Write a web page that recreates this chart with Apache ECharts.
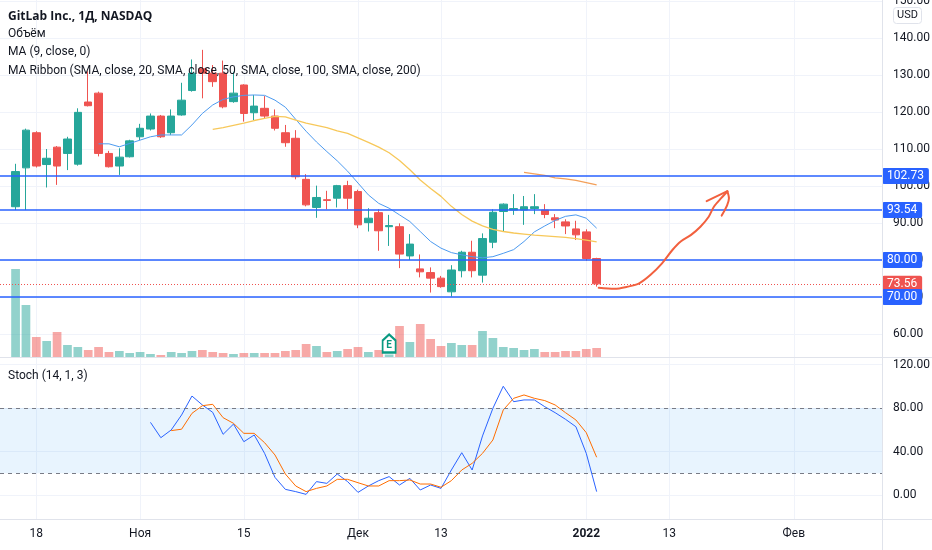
<!DOCTYPE html>
<html>
<head>
<meta charset="utf-8">
<title>GitLab Inc., 1Д, NASDAQ</title>
<script src="https://cdn.jsdelivr.net/npm/echarts@6.0.0/dist/echarts.min.js"></script>
<style>
  html, body { margin: 0; padding: 0; background: #fff; }
  #chart { width: 932px; height: 550px; }
</style>
</head>
<body>
<div id="chart"></div>
<script>
// trading days: one empty slot before the IPO, then history, then empty future days
const dates = [
  '',
  '2021-10-14','2021-10-15','2021-10-18','2021-10-19','2021-10-20','2021-10-21','2021-10-22',
  '2021-10-25','2021-10-26','2021-10-27','2021-10-28','2021-10-29',
  '2021-11-01','2021-11-02','2021-11-03','2021-11-04','2021-11-05',
  '2021-11-08','2021-11-09','2021-11-10','2021-11-11','2021-11-12',
  '2021-11-15','2021-11-16','2021-11-17','2021-11-18','2021-11-19',
  '2021-11-22','2021-11-23','2021-11-24','2021-11-26','2021-11-29','2021-11-30',
  '2021-12-01','2021-12-02','2021-12-03','2021-12-06','2021-12-07','2021-12-08','2021-12-09','2021-12-10',
  '2021-12-13','2021-12-14','2021-12-15','2021-12-16','2021-12-17',
  '2021-12-20','2021-12-21','2021-12-22','2021-12-23',
  '2021-12-27','2021-12-28','2021-12-29','2021-12-30','2021-12-31',
  '2022-01-03','2022-01-04',
  '2022-01-05','2022-01-06','2022-01-07','2022-01-10','2022-01-11','2022-01-12','2022-01-13','2022-01-14',
  '2022-01-18','2022-01-19','2022-01-20','2022-01-21','2022-01-24','2022-01-25','2022-01-26','2022-01-27','2022-01-28',
  '2022-01-31','2022-02-01','2022-02-02','2022-02-03','2022-02-04','2022-02-07','2022-02-08','2022-02-09','2022-02-10','2022-02-11'
];

// time axis labels shown under the chart
const tickLabels = {
  '2021-10-18': '18', '2021-11-01': 'Ноя', '2021-11-15': '15', '2021-12-01': 'Дек',
  '2021-12-13': '13', '2022-01-03': '2022', '2022-01-13': '13', '2022-02-01': 'Фев'
};

// OHLC, one entry per trading day from 2021-10-14
const opens = [94.4, 104.9, 114.4, 105.8, 110.5, 108.8, 105.9, 122.7, 125.1, 108.8,
  105.4, 107.9, 113.3, 115.4, 118.9, 114.4, 119.2, 125.8, 131.7, 130.5,
  130.5, 122.8, 127.3, 119.8, 121.0, 118.9, 114.4, 112.9, 101.8, 94.2,
  96.3, 96.7, 100.1, 98.5, 90.1, 92.8, 89.0, 89.0, 81.1, 77.6,
  76.6, 75.1, 71.4, 77.1, 82.1, 75.9, 84.8, 93.1, 93.5, 93.5,
  93.9, 93.5, 91.4, 90.3, 88.4, 87.6, 80.4];
const closes = [103.9, 115.1, 105.4, 107.5, 105.4, 112.7, 119.9, 121.7, 108.8, 105.2,
  107.8, 112.2, 115.6, 118.9, 113.3, 118.9, 123.2, 130.5, 130.5, 128.2,
  121.4, 125.1, 119.6, 121.6, 118.9, 115.6, 111.7, 102.5, 94.9, 96.9,
  96.1, 100.1, 96.7, 89.5, 91.3, 87.9, 89.3, 81.6, 84.3, 76.8,
  75.1, 72.8, 77.3, 82.1, 77.1, 85.8, 92.9, 95.1, 93.9, 94.4,
  94.4, 92.3, 90.8, 89.2, 86.8, 80.4, 73.56];
const lows = [93.5, 93.5, 105.0, 99.6, 100.3, 104.3, 105.5, 121.5, 108.0, 105.0,
  103.0, 107.7, 112.4, 115.0, 113.0, 113.8, 119.0, 125.5, 123.7, 126.8,
  121.0, 122.5, 117.4, 117.8, 118.3, 115.0, 110.6, 101.8, 94.5, 91.4,
  93.7, 94.2, 93.7, 88.6, 87.7, 82.5, 83.8, 77.8, 80.0, 75.3,
  71.2, 72.5, 70.1, 75.3, 75.3, 73.9, 83.2, 87.7, 92.2, 89.5,
  92.4, 91.3, 88.6, 87.0, 85.4, 79.8, 72.8];
const highs = [106.0, 115.5, 114.8, 110.0, 110.8, 113.3, 121.0, 131.0, 125.5, 109.5,
  110.2, 112.5, 116.8, 119.6, 119.2, 120.7, 127.9, 134.2, 136.8, 132.7,
  133.9, 130.9, 127.5, 124.6, 124.3, 120.7, 116.5, 115.1, 103.2, 100.1,
  98.7, 100.3, 101.4, 99.0, 94.0, 93.7, 92.2, 89.9, 87.0, 81.5,
  78.0, 75.7, 78.6, 82.5, 85.2, 87.2, 93.7, 95.3, 97.8, 97.3,
  97.8, 95.1, 92.4, 91.0, 90.6, 88.3, 80.6];

// volume, millions of shares
const volumes = [8.8, 5.2, 2.0, 1.6, 2.5, 1.2, 1.0, 0.7, 1.0, 0.5,
  0.6, 0.4, 0.5, 0.3, 0.2, 0.5, 0.4, 0.6, 0.7, 0.5,
  0.4, 0.3, 0.4, 0.4, 0.4, 0.4, 0.6, 0.7, 1.3, 1.1,
  0.5, 0.6, 0.8, 1.0, 0.5, 0.7, 0.25, 3.1, 1.5, 3.3,
  1.8, 1.1, 1.4, 1.2, 1.2, 2.6, 1.9, 1.0, 0.9, 0.7,
  0.8, 0.5, 0.5, 0.6, 0.6, 0.8, 0.9];

// MA 9 from the 9th day, ribbon MA 20 from the 20th, MA 50 from the 50th
const ma9 = [111.4, 111.4, 110.6, 111.5, 112.4, 113.3, 113.8, 113.8, 113.8, 116.5,
  119.6, 121.9, 123.4, 124.1, 124.5, 124.6, 124.5, 123.2, 121.3, 118.0,
  114.8, 111.9, 109.3, 106.8, 104.0, 100.8, 97.6, 95.3, 94.0, 92.2,
  90.4, 87.7, 85.0, 83.2, 82.0, 81.4, 80.9, 80.6, 80.9, 81.8,
  82.8, 85.0, 87.6, 89.2, 90.7, 91.8, 92.2, 91.3, 88.6];
const ma20 = [115.3, 115.8, 116.4, 117.0, 117.7, 118.3, 118.8, 118.7, 117.8, 117.0,
  116.4, 115.8, 114.9, 114.2, 113.0, 111.8, 110.5, 109.0, 106.9, 104.4,
  101.6, 99.3, 97.2, 94.5, 92.3, 90.5, 89.2, 88.3, 87.7, 87.3,
  87.0, 86.7, 86.5, 86.3, 86.1, 85.8, 85.4, 84.9];
const ma50 = [103.7, 103.3, 102.9, 102.2, 101.9, 101.5, 100.9, 100.3];

// Stoch (14, 1, 3): %K from the 14th day, %D from the 16th
const stochK = [66.8, 52.7, 59.8, 73.6, 91.0, 82.8, 76.0, 55.8, 65.2, 49.0,
  55.2, 38.3, 16.2, 5.2, 3.1, 0.6, 12.3, 10.7, 19.3, 12.3,
  2.4, 8.3, 13.2, 16.9, 9.2, 15.3, 4.6, 9.2, 6.1, 23.0,
  38.9, 23.0, 54.3, 79.7, 100, 85.8, 87.4, 87.4, 81.2, 75.7,
  69.6, 62.8, 38.3, 3.1];
const stochD = [59.2, 60.5, 75.1, 82.1, 83.4, 71.1, 65.9, 56.7, 56.7, 48.1,
  36.8, 19.3, 8.3, 3.1, 6.1, 8.3, 14.4, 14.4, 11.3, 8.3,
  8.3, 13.2, 13.2, 13.8, 10.1, 10.1, 7.1, 13.2, 23.0, 29.1,
  38.3, 50.6, 78.2, 88.9, 92.0, 88.9, 86.8, 82.8, 75.7, 69.0,
  57.3, 34.7];

// horizontal levels drawn on the chart
const levels = [102.73, 93.54, 80, 70];
const earningsDate = '2021-12-06';

// hand drawn arrow: [day index, price]
const arrowPath = [[57.2, 72.5], [58.7, 72.2], [60.0, 72.8], [61.1, 73.7], [62.2, 76.0], [63.3, 79.1],
  [64.3, 82.7], [65.1, 85.0], [66.1, 86.8], [67.0, 89.0], [67.8, 91.7], [68.3, 94.4],
  [69.0, 96.7], [69.6, 98.5]];
const arrowLeft = [[67.6, 95.9], [69.6, 98.6]];
const arrowRight = [[69.6, 98.6], [69.75, 96.7], [69.05, 92.0]];

// ------------------------- chart -------------------------
const FONT = 'Roboto, "Noto Sans", sans-serif';
const TEXT = '#131722';
const UP = '#26A69A', DOWN = '#EF5350';
const GRID_LINE = '#F0F3FA';
const BORDER = '#E0E3EB';

const lead = (n, arr) => Array(n).fill('-').concat(arr);
const isTick = (i, v) => Object.prototype.hasOwnProperty.call(tickLabels, v);

const candleData = lead(1, opens.map((o, i) => [o, closes[i], lows[i], highs[i]]));
const volData = lead(1, volumes.map((v, i) => ({
  value: v,
  itemStyle: { color: closes[i] >= opens[i] ? 'rgba(38,166,154,0.5)' : 'rgba(239,83,80,0.5)' }
})));
const lastPrice = closes[closes.length - 1];
const earnIdx = dates.indexOf(earningsDate);

const priceLabel = (bg) => ({
  show: true, position: 'end', distance: 0,
  formatter: p => Number(p.value).toFixed(2),
  color: '#fff', backgroundColor: bg, fontFamily: FONT, fontSize: 12, lineHeight: 13,
  padding: [2, 5, 1, 5], borderRadius: 2
});

const chart = echarts.init(document.getElementById('chart'));
chart.setOption({
  animation: false,
  backgroundColor: '#fff',
  grid: [
    { left: 0, right: 50, top: 1, height: 333, outerBoundsMode: 'none' },          // price
    { left: 0, right: 50, top: 0, bottom: 193, outerBoundsMode: 'none' },          // volume
    { left: 0, right: 50, top: 364.5, bottom: 55, outerBoundsMode: 'none' },       // stoch
    { left: 5.188, right: 55.188, top: 0, bottom: 31, outerBoundsMode: 'none' }    // time grid lines + labels
  ],
  xAxis: [
    { type: 'category', gridIndex: 0, data: dates, show: false },
    { type: 'category', gridIndex: 1, data: dates, show: false },
    { type: 'category', gridIndex: 2, data: dates, show: false },
    {
      type: 'category', gridIndex: 3, data: dates, boundaryGap: false,
      axisLine: { show: false }, axisTick: { show: false },
      axisLabel: {
        interval: isTick, margin: 9, color: TEXT, fontSize: 12, fontFamily: FONT,
        formatter: v => v === '2022-01-03' ? '{y|2022}' : tickLabels[v],
        rich: { y: { fontWeight: 'bold', fontSize: 12, color: TEXT, fontFamily: FONT } }
      },
      splitLine: { show: true, interval: isTick, lineStyle: { color: GRID_LINE, width: 1 } }
    },
    { type: 'value', gridIndex: 0, min: -0.5, max: dates.length - 0.5, show: false }
  ],
  yAxis: [
    {
      type: 'value', gridIndex: 0, position: 'right', min: 60, max: 150, interval: 10,
      axisLine: { show: false }, axisTick: { show: false },
      axisLabel: { formatter: v => v.toFixed(2), color: TEXT, fontSize: 12, fontFamily: FONT, margin: 11 },
      splitLine: { lineStyle: { color: GRID_LINE } }
    },
    { type: 'value', gridIndex: 1, min: 0, max: 35.7, show: false },
    {
      type: 'value', gridIndex: 2, position: 'right', min: 0, max: 120, interval: 40,
      axisLine: { show: false }, axisTick: { show: false },
      axisLabel: { formatter: v => v.toFixed(2), color: TEXT, fontSize: 12, fontFamily: FONT, margin: 11 },
      splitLine: { lineStyle: { color: GRID_LINE } }
    },
    { type: 'value', gridIndex: 3, show: false }
  ],
  series: [
    {
      name: 'Объём', type: 'bar', xAxisIndex: 1, yAxisIndex: 1, z: 1,
      data: volData, barCategoryGap: '16%',
      markPoint: {
        silent: true,
        data: [{
          coord: [earnIdx, volumes[earnIdx - 1]],
          symbol: 'path://M0,6 L6.5,0 L13,6 L13,18 L0,18 Z',
          symbolSize: [13, 18], symbolOffset: [0, -11],
          itemStyle: { color: '#fff', borderColor: '#089981', borderWidth: 2 },
          label: { show: true, formatter: 'E', color: '#089981', fontWeight: 'bold', fontSize: 10, fontFamily: FONT, offset: [0, 2] }
        }]
      }
    },
    {
      name: 'GTLB', type: 'candlestick', xAxisIndex: 0, yAxisIndex: 0, z: 3,
      data: candleData, barWidth: 8,
      itemStyle: { color: UP, color0: DOWN, borderColor: UP, borderColor0: DOWN, borderColorDoji: UP, borderWidth: 1 },
      markLine: {
        silent: true, symbol: 'none', animation: false,
        data: [{
          yAxis: lastPrice, lineStyle: { color: DOWN, width: 1, type: [1, 2] }, label: priceLabel(DOWN)
        }].concat(levels.map(v => ({
          yAxis: v, lineStyle: { color: '#2962FF', width: 1.5, type: 'solid' }, label: priceLabel('#2962FF')
        })))
      }
    },
    {
      name: 'MA 9', type: 'line', xAxisIndex: 0, yAxisIndex: 0, z: 4, symbol: 'none',
      data: lead(9, ma9), lineStyle: { color: '#4D9BF0', width: 1 }
    },
    {
      name: 'MA 20', type: 'line', xAxisIndex: 0, yAxisIndex: 0, z: 4, symbol: 'none',
      data: lead(20, ma20), lineStyle: { color: '#F7C85A', width: 1.3 }
    },
    {
      name: 'MA 50', type: 'line', xAxisIndex: 0, yAxisIndex: 0, z: 4, symbol: 'none',
      data: lead(50, ma50), lineStyle: { color: '#F3A05A', width: 1.3 }
    },
    {
      name: '%K', type: 'line', xAxisIndex: 2, yAxisIndex: 2, z: 4, symbol: 'none',
      data: lead(14, stochK), lineStyle: { color: '#2962FF', width: 1 },
      markArea: {
        silent: true,
        itemStyle: { color: 'rgba(33,150,243,0.1)' },
        data: [[{ yAxis: 20 }, { yAxis: 80 }]]
      },
      markLine: {
        silent: true, symbol: 'none', label: { show: false },
        lineStyle: { color: '#787B86', width: 1, type: [4, 4] },
        data: [{ yAxis: 80 }, { yAxis: 20 }]
      }
    },
    {
      name: '%D', type: 'line', xAxisIndex: 2, yAxisIndex: 2, z: 4, symbol: 'none',
      data: lead(16, stochD), lineStyle: { color: '#FF6D00', width: 1 }
    },
    // drawing on top of the chart
    ...[arrowPath, arrowLeft, arrowRight].map(pts => ({
      type: 'line', xAxisIndex: 4, yAxisIndex: 0, z: 5, symbol: 'none', smooth: 0.3,
      data: pts, lineStyle: { color: '#F2603E', width: 2, cap: 'round', join: 'round' }
    }))
  ],
  graphic: [
    { type: 'line', shape: { x1: 882.5, y1: 0, x2: 882.5, y2: 550 }, style: { stroke: BORDER, lineWidth: 1 }, z: 10 },
    { type: 'line', shape: { x1: 0, y1: 357.5, x2: 932, y2: 357.5 }, style: { stroke: BORDER, lineWidth: 1 }, z: 10 },
    { type: 'line', shape: { x1: 0, y1: 519.5, x2: 932, y2: 519.5 }, style: { stroke: BORDER, lineWidth: 1 }, z: 10 },
    {
      type: 'group', left: 893, top: 7, z: 20,
      children: [
        { type: 'rect', shape: { x: 0, y: 0, width: 28, height: 16, r: 3 }, style: { fill: '#fff', stroke: BORDER, lineWidth: 1 } },
        { type: 'text', x: 14, y: 8, style: { text: 'USD', fill: TEXT, font: '11px ' + FONT, textAlign: 'center', textVerticalAlign: 'middle' } }
      ]
    },
    { type: 'text', left: 8, top: 11, z: 20, style: { text: 'GitLab Inc., 1Д, NASDAQ', fill: TEXT, font: 'bold 12px "Open Sans", ' + FONT } },
    { type: 'text', left: 8, top: 28, z: 20, style: { text: 'Объём', fill: TEXT, font: '12px ' + FONT } },
    { type: 'text', left: 8, top: 46, z: 20, style: { text: 'MA (9, close, 0)', fill: TEXT, font: '12px ' + FONT } },
    { type: 'text', left: 8, top: 65, z: 20, style: { text: 'MA Ribbon (SMA, close, 20, SMA, close, 50, SMA, close, 100, SMA, close, 200)', fill: TEXT, font: '12px ' + FONT } },
    { type: 'text', left: 8, top: 370, z: 20, style: { text: 'Stoch (14, 1, 3)', fill: TEXT, font: '12px ' + FONT } }
  ]
});
</script>
</body>
</html>
